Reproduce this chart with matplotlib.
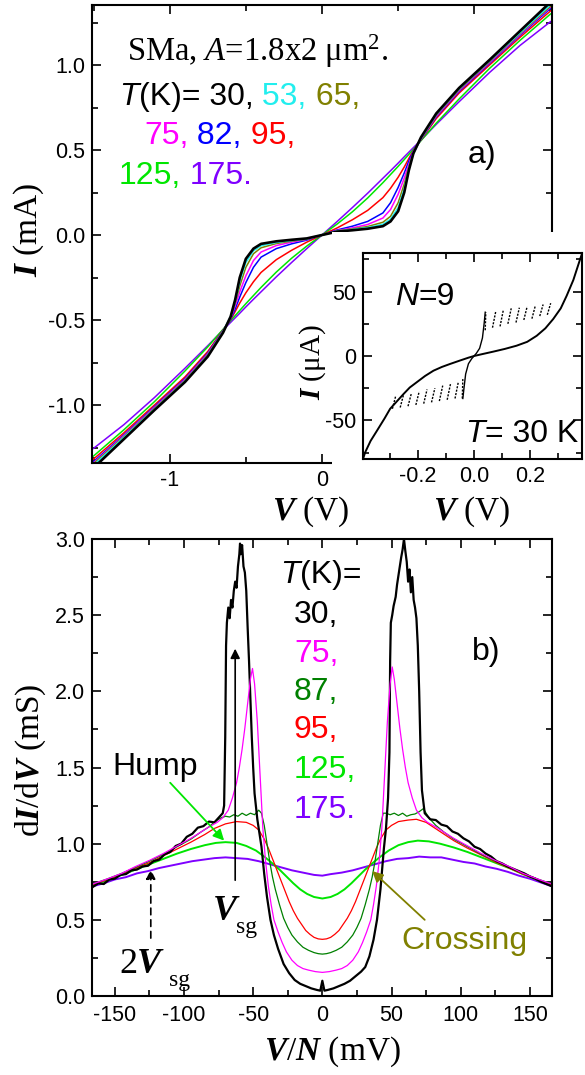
import numpy as np
import matplotlib.pyplot as plt
from matplotlib.patches import Rectangle
from matplotlib.ticker import MultipleLocator, FormatStrFormatter, FuncFormatter

plt.rcParams['font.family'] = 'Liberation Sans'
plt.rcParams['axes.unicode_minus'] = False
plt.rcParams['mathtext.fontset'] = 'custom'
plt.rcParams['mathtext.rm'] = 'Liberation Serif'
plt.rcParams['mathtext.it'] = 'Liberation Serif:italic'
plt.rcParams['mathtext.bf'] = 'Liberation Serif:italic:bold'
SERIF = 'Liberation Serif'

# ---- panel a: I-V curves (V in volts, I in mA) ----
V_a = [-1.5, -1.3, -1.1, -0.9, -0.75, -0.65, -0.6, -0.57, -0.54, -0.5, -0.45, -0.4, -0.3, -0.2, -0.1,
       0.0, 0.1, 0.2, 0.3, 0.4, 0.45, 0.5, 0.54, 0.57, 0.6, 0.65, 0.75, 0.9, 1.1, 1.3, 1.5]
I_30 = [-1.37, -1.2, -1.03, -0.865, -0.715, -0.575, -0.48, -0.38, -0.25, -0.14, -0.08, -0.052, -0.037, -0.028, -0.02,
        0.0, 0.02, 0.028, 0.037, 0.052, 0.08, 0.14, 0.25, 0.38, 0.48, 0.575, 0.715, 0.865, 1.03, 1.2, 1.37]
I_53 = [-1.355, -1.19, -1.025, -0.86, -0.71, -0.57, -0.48, -0.39, -0.27, -0.16, -0.092, -0.062, -0.043, -0.032, -0.022,
        0.0, 0.022, 0.032, 0.043, 0.062, 0.092, 0.16, 0.27, 0.39, 0.48, 0.57, 0.71, 0.86, 1.025, 1.19, 1.355]
I_65 = [-1.345, -1.185, -1.02, -0.855, -0.705, -0.567, -0.485, -0.40, -0.30, -0.19, -0.11, -0.075, -0.05, -0.036, -0.024,
        0.0, 0.024, 0.036, 0.05, 0.075, 0.11, 0.19, 0.30, 0.40, 0.485, 0.567, 0.705, 0.855, 1.02, 1.185, 1.345]
I_75 = [-1.34, -1.18, -1.015, -0.85, -0.70, -0.565, -0.49, -0.415, -0.335, -0.24, -0.15, -0.10, -0.062, -0.042, -0.026,
        0.0, 0.026, 0.042, 0.062, 0.10, 0.15, 0.24, 0.335, 0.415, 0.49, 0.565, 0.70, 0.85, 1.015, 1.18, 1.34]
I_82 = [-1.333, -1.175, -1.01, -0.845, -0.695, -0.562, -0.495, -0.435, -0.365, -0.28, -0.19, -0.13, -0.08, -0.052, -0.03,
        0.0, 0.03, 0.052, 0.08, 0.13, 0.19, 0.28, 0.365, 0.435, 0.495, 0.562, 0.695, 0.845, 1.01, 1.175, 1.333]
I_95 = [-1.318, -1.163, -1.0, -0.835, -0.685, -0.56, -0.497, -0.45, -0.40, -0.34, -0.275, -0.22, -0.145, -0.09, -0.042,
        0.0, 0.042, 0.09, 0.145, 0.22, 0.275, 0.34, 0.40, 0.45, 0.497, 0.56, 0.685, 0.835, 1.0, 1.163, 1.318]
I_125 = [-1.30, -1.145, -0.98, -0.80, -0.658, -0.555, -0.504, -0.474, -0.444, -0.404, -0.356, -0.308, -0.218, -0.137, -0.065,
         0.0, 0.065, 0.137, 0.218, 0.308, 0.356, 0.404, 0.444, 0.474, 0.504, 0.555, 0.658, 0.80, 0.98, 1.145, 1.30]
I_175 = [-1.255, -1.115, -0.956, -0.784, -0.651, -0.559, -0.514, -0.487, -0.46, -0.423, -0.378, -0.334, -0.246, -0.162, -0.08,
         0.0, 0.08, 0.162, 0.246, 0.334, 0.378, 0.423, 0.46, 0.487, 0.514, 0.559, 0.651, 0.784, 0.956, 1.115, 1.255]

# ---- inset: N=9 stack at 30 K (V in volts, I in uA) ----
in_v = [-0.40, -0.389, -0.37, -0.347, -0.32, -0.30, -0.275, -0.252, -0.23, -0.205, -0.175, -0.145, -0.115, -0.086,
        -0.05, -0.02, 0.0, 0.03, 0.069, 0.11, 0.152, 0.19, 0.224, 0.255, 0.283, 0.31, 0.331, 0.355, 0.379, 0.39]
in_i = [-82, -74.7, -66, -58, -48.5, -41, -35, -29.5, -24.5, -20.4, -15.5, -11.4, -8.5, -6.2,
        -3.5, -1.3, 0, 1.5, 3.4, 5.5, 8, 11, 15.7, 21.5, 28.7, 37, 46.7, 59, 75, 82]
cen_v = [-0.04, -0.036, -0.03, -0.02, -0.008, 0.0, 0.008, 0.02, 0.03, 0.036, 0.04]
cen_i = [-33, -25, -14, -6, -2, 0, 2, 6, 14, 25, 34]
br_v0 = [0.040, 0.066, 0.093, 0.121, 0.150, 0.178, 0.207, 0.235, 0.262,
         -0.292, -0.264, -0.236, -0.208, -0.180, -0.152, -0.124, -0.096, -0.068, -0.042]
br_v1 = [0.042, 0.078, 0.105, 0.133, 0.162, 0.190, 0.219, 0.247, 0.274,
         -0.280, -0.252, -0.224, -0.196, -0.168, -0.140, -0.112, -0.084, -0.056, -0.040]
br_i0 = [20, 22, 23, 25, 26, 28, 29, 31, 32,
         -41, -40, -39, -38, -37, -36, -35, -34, -33, -33]
br_i1 = [34, 35, 36, 37, 37.5, 38.5, 39, 40, 41,
         -31, -30, -29, -27.5, -26, -25, -23, -21.5, -20, -17]

# ---- panel b: dI/dV (mS) vs V/N (mV) ----
v_175 = [-166, -158, -150, -142, -134, -126, -118, -110, -102, -94, -86, -78, -70, -62, -54, -46, -38, -30, -22, -14, -6,
         0, 6, 14, 22, 30, 38, 46, 54, 62, 70, 78, 86, 94, 102, 110, 118, 126, 134, 142, 150, 158, 166]
g_175 = [0.72, 0.74, 0.765, 0.78, 0.805, 0.82, 0.84, 0.855, 0.87, 0.885, 0.895, 0.905, 0.91, 0.905, 0.9, 0.885, 0.865,
         0.845, 0.825, 0.81, 0.795, 0.79, 0.80, 0.81, 0.825, 0.845, 0.865, 0.885, 0.9, 0.905, 0.915, 0.91, 0.91, 0.895,
         0.88, 0.87, 0.85, 0.835, 0.815, 0.79, 0.77, 0.745, 0.72]
v_125 = [-166, -155, -145, -135, -125, -115, -105, -95, -85, -77, -70, -62, -55, -48, -42, -36, -31, -26, -21, -16, -11, -6,
         0, 6, 11, 16, 21, 26, 31, 36, 42, 48, 55, 62, 69, 77, 85, 95, 105, 115, 125, 135, 145, 155, 166]
g_125 = [0.73, 0.76, 0.795, 0.83, 0.865, 0.90, 0.935, 0.965, 0.99, 1.005, 1.01, 1.005, 0.985, 0.955, 0.915, 0.87, 0.83,
         0.785, 0.74, 0.70, 0.67, 0.65, 0.64, 0.65, 0.67, 0.70, 0.74, 0.785, 0.83, 0.87, 0.915, 0.955, 0.99, 1.01, 1.02,
         1.015, 1.0, 0.975, 0.945, 0.91, 0.875, 0.84, 0.80, 0.765, 0.73]
v_95 = [-166, -155, -145, -135, -125, -115, -105, -95, -85, -78, -70, -62, -55, -50, -46, -42, -39, -36, -33, -30, -27,
        -24, -21, -18, -15, -12, -9, -6, -3, 0, 3, 6, 9, 12, 15, 18, 21, 24, 27, 30, 33, 36, 39, 42, 46, 50, 55, 62, 68,
        75, 85, 95, 105, 115, 125, 135, 145, 155, 166]
g_95 = [0.73, 0.765, 0.80, 0.84, 0.875, 0.92, 0.965, 1.01, 1.06, 1.10, 1.13, 1.145, 1.14, 1.12, 1.09, 1.03, 0.97, 0.90,
        0.83, 0.76, 0.69, 0.62, 0.56, 0.51, 0.47, 0.43, 0.405, 0.385, 0.375, 0.372, 0.375, 0.385, 0.405, 0.43, 0.47, 0.51,
        0.56, 0.62, 0.69, 0.76, 0.83, 0.90, 0.97, 1.03, 1.09, 1.12, 1.145, 1.155, 1.16, 1.14, 1.08, 1.02, 0.97, 0.925,
        0.88, 0.84, 0.80, 0.765, 0.73]
v_87 = [-166, -155, -145, -135, -125, -115, -105, -95, -88, -82, -77, -73, -70, -67, -64, -61, -58, -55, -52, -49, -46,
        -44, -42, -40, -38, -36, -34, -31, -28, -25, -22, -18, -14, -10, -6, -3, 0, 3, 6, 10, 14, 18, 22, 25, 28, 31, 34,
        36, 38, 40, 42, 44, 46, 49, 52, 55, 58, 61, 64, 67, 70, 73, 77, 82, 88, 95, 105, 115, 125, 135, 145, 155, 166]
g_87 = [0.735, 0.77, 0.805, 0.845, 0.885, 0.93, 0.98, 1.03, 1.075, 1.11, 1.15, 1.17, 1.18, 1.175, 1.19, 1.18, 1.2, 1.185,
        1.2, 1.19, 1.22, 1.2, 1.12, 1.0, 0.88, 0.78, 0.70, 0.60, 0.51, 0.45, 0.40, 0.355, 0.32, 0.30, 0.285, 0.278, 0.275,
        0.278, 0.285, 0.30, 0.32, 0.355, 0.40, 0.45, 0.51, 0.60, 0.70, 0.78, 0.88, 1.0, 1.12, 1.2, 1.2, 1.19, 1.2, 1.185,
        1.2, 1.18, 1.19, 1.195, 1.21, 1.23, 1.17, 1.12, 1.075, 1.03, 0.98, 0.93, 0.885, 0.845, 0.805, 0.77, 0.735]
v_75 = [-166, -155, -145, -135, -125, -115, -105, -95, -88, -82, -76, -72, -68, -65, -62, -60, -58, -56, -54, -52, -50.5,
        -49, -47, -45, -43, -41, -39, -37, -35, -32, -29, -26, -22, -18, -14, -10, -5, 0, 5, 10, 14, 18, 22, 26, 29, 32,
        35, 37, 39, 41, 43, 45, 47, 49, 50.5, 52, 54, 56, 58, 60, 62, 65, 68, 72, 76, 82, 88, 95, 105, 115, 125, 135,
        145, 155, 166]
g_75 = [0.735, 0.77, 0.805, 0.85, 0.89, 0.935, 0.985, 1.035, 1.075, 1.11, 1.14, 1.17, 1.22, 1.30, 1.40, 1.50, 1.62, 1.76,
        1.92, 2.08, 2.15, 2.05, 1.80, 1.45, 1.10, 0.88, 0.72, 0.60, 0.50, 0.42, 0.35, 0.29, 0.235, 0.20, 0.18, 0.17, 0.16,
        0.155, 0.16, 0.17, 0.18, 0.20, 0.235, 0.29, 0.35, 0.42, 0.50, 0.60, 0.72, 0.88, 1.10, 1.45, 1.80, 2.05, 2.16,
        2.08, 1.92, 1.76, 1.62, 1.50, 1.40, 1.30, 1.22, 1.17, 1.14, 1.11, 1.075, 1.035, 0.985, 0.935, 0.89, 0.85, 0.805,
        0.77, 0.735]
v_30 = [-166, -162, -158, -154, -150, -146, -142, -138, -134, -130, -126, -122, -118, -114, -110, -106, -102, -98, -94,
        -90, -86, -82, -78, -74,
        -72, -71, -70.2, -69.6, -69, -68, -67, -66, -65, -64, -63, -62, -61, -60, -59.5, -59, -58, -57, -56, -55,
        -54, -53, -52, -51, -50, -49, -47, -45, -44, -42, -40, -37.5, -35, -32, -28, -24, -20, -16, -12, -8,
        -4, -1.5, 0, 1.5, 4, 8, 12, 16, 20, 24, 28, 31, 34, 37, 39.5, 42, 44.5, 46, 47.5, 48.5,
        49, 49.5, 50.5, 51.5, 53, 54, 55, 56, 57, 58, 59, 60, 61, 62, 63, 64, 65, 66, 67, 68, 69, 70, 71, 72,
        74, 78, 82, 86, 90, 94, 98, 102, 106, 110, 114, 118, 122, 126, 130, 134, 138, 142, 146, 150, 154, 158, 162, 166]
g_30 = [0.715, 0.74, 0.735, 0.765, 0.77, 0.795, 0.80, 0.825, 0.83, 0.85, 0.855, 0.885, 0.895, 0.93, 0.945, 0.985, 1.0,
        1.045, 1.065, 1.105, 1.115, 1.145, 1.14, 1.18,
        1.2, 1.25, 1.7, 2.3, 2.45, 2.55, 2.48, 2.6, 2.55, 2.66, 2.72, 2.68, 2.82, 2.9, 2.97, 2.9, 2.96, 2.82, 2.78, 2.66,
        2.42, 2.2, 1.95, 1.7, 1.5, 1.33, 1.16, 1.04, 0.98, 0.8, 0.65, 0.5, 0.4, 0.31, 0.21, 0.15, 0.105, 0.08, 0.065, 0.05,
        0.04, 0.035, 0.1, 0.035, 0.04, 0.05, 0.065, 0.08, 0.1, 0.13, 0.16, 0.19, 0.26, 0.37, 0.5, 0.7, 0.97, 1.1, 1.3, 1.6,
        2.2, 2.45, 2.5, 2.56, 2.62, 2.7, 2.76, 2.82, 2.88, 2.93, 3.0, 2.92, 2.85, 2.72, 2.8, 2.65, 2.75, 2.6, 2.55, 2.48,
        2.3, 2.0, 1.6, 1.35,
        1.2, 1.16, 1.155, 1.125, 1.115, 1.08, 1.065, 1.035, 1.015, 0.98, 0.965, 0.935, 0.915, 0.885, 0.87, 0.85, 0.835,
        0.82, 0.805, 0.785, 0.77, 0.75, 0.735, 0.72]

C_CYAN, C_OLIVE, C_MAG, C_BLUE = '#22eeee', '#808000', '#ff00ff', '#0000ff'
C_RED, C_GREEN, C_PURP, C_DKGR = '#ff0000', '#00e600', '#7f00ff', '#008000'


def style_axes(ax, xmaj, xmin, ymaj, ymin, xfmt, yfmt):
    ax.xaxis.set_major_locator(MultipleLocator(xmaj))
    ax.xaxis.set_minor_locator(MultipleLocator(xmin))
    ax.yaxis.set_major_locator(MultipleLocator(ymaj))
    ax.yaxis.set_minor_locator(MultipleLocator(ymin))
    ax.xaxis.set_major_formatter(FormatStrFormatter(xfmt))
    ax.yaxis.set_major_formatter(FormatStrFormatter(yfmt))
    ax.tick_params(which='both', direction='in', top=True, right=True, width=1.2, labelsize=15.5, pad=5)
    ax.tick_params(which='major', length=6.5)
    ax.tick_params(which='minor', length=4)
    for s in ax.spines.values():
        s.set_linewidth(1.5)


def chain(ax, x, y, parts, size, transform, **kw):
    # place text pieces one after another on the same baseline
    t = None
    for s, color, style in parts:
        if t is None:
            t = ax.text(x, y, s, color=color, style=style, fontsize=size, transform=transform,
                        ha='left', va='baseline', **kw)
        else:
            t = ax.annotate(s, xy=(1, 0), xycoords=t, ha='left', va='bottom',
                            color=color, style=style, fontsize=size, **kw)
    return t


fig = plt.figure(figsize=(5.85, 10.75), dpi=100)
W, H = 585.0, 1075.0
ax_a = fig.add_axes([92 / W, 1 - 463 / H, 460 / W, 458 / H])
ax_b = fig.add_axes([92 / W, 1 - 996 / H, 460 / W, 457 / H])
ax_in = fig.add_axes([363 / W, 1 - 459 / H, 219 / W, 206 / H])
ax_in.set_zorder(3)
# white cut-out behind the inset (hides the main frame there)
fig.add_artist(Rectangle((332 / W, 1 - 492 / H), 253 / W, 260 / H, transform=fig.transFigure,
                         facecolor='white', edgecolor='none', zorder=2))

# panel a
for I, c, lw in [(I_175, C_PURP, 1.1), (I_125, C_GREEN, 1.1), (I_95, C_RED, 1.1), (I_82, C_BLUE, 1.1),
                 (I_75, C_MAG, 1.1), (I_65, C_OLIVE, 1.1), (I_53, C_CYAN, 1.3), (I_30, 'black', 1.9)]:
    ax_a.plot(V_a, I, color=c, lw=lw)
ax_a.set_xlim(-1.51, 1.51)
ax_a.set_ylim(-1.341, 1.353)
style_axes(ax_a, 1, 0.5, 0.5, 0.25, '%d', '%.1f')
# the "1" label sits under the inset in the original
ax_a.xaxis.set_major_formatter(FuncFormatter(lambda x, p: '%d' % x if x < 0.5 else ''))
ax_a.text(-0.137, 0.509, r'$\mathbf{I}$ (mA)', transform=ax_a.transAxes, rotation=90,
          ha='center', va='center', fontsize=24, family=SERIF)
ax_a.text(0.476, -0.107, r'$\mathbf{V}$ (V)', transform=ax_a.transAxes,
          ha='center', va='center', fontsize=24, family=SERIF)
ax_a.text(0.076, 0.878, r'SMa, $A$=1.8x2 μm$^2$.', transform=ax_a.transAxes,
          ha='left', va='baseline', fontsize=23.5, family=SERIF)
chain(ax_a, 0.0587, 0.7817, [('T', 'black', 'italic'), ('(K)= 30,', 'black', 'normal'),
                             (' 53,', C_CYAN, 'normal'), (' 65,', C_OLIVE, 'normal')], 23, ax_a.transAxes)
chain(ax_a, 0.113, 0.6965, [('75,', C_MAG, 'normal'), (' 82,', C_BLUE, 'normal'),
                            (' 95,', C_RED, 'normal')], 23, ax_a.transAxes)
chain(ax_a, 0.0587, 0.609, [('125,', C_GREEN, 'normal'), (' 175.', C_PURP, 'normal')], 23, ax_a.transAxes)
ax_a.text(0.817, 0.655, 'a)', transform=ax_a.transAxes, ha='left', va='baseline', fontsize=23)

# inset
ax_in.plot(in_v, in_i, color='black', lw=1.4)
ax_in.plot(cen_v, cen_i, color='black', lw=1.0)
for a, b, c, d in zip(br_v0, br_v1, br_i0, br_i1):
    ax_in.plot([a, b], [c, d], color='black', lw=1.0, ls=(0, (1.5, 1)))
ax_in.set_xlim(-0.397, 0.386)
ax_in.set_ylim(-80, 80)
style_axes(ax_in, 0.2, 0.1, 50, 25, '%.1f', '%d')
ax_in.text(-0.228, 0.47, r'$\mathbf{I}$ (μA)', transform=ax_in.transAxes, rotation=90,
           ha='center', va='center', fontsize=21, family=SERIF)
ax_in.text(0.498, -0.257, r'$\mathbf{V}$ (V)', transform=ax_in.transAxes,
           ha='center', va='center', fontsize=24, family=SERIF)
chain(ax_in, 0.146, 0.7476, [('N', 'black', 'italic'), ('=9', 'black', 'normal')], 23, ax_in.transAxes)
chain(ax_in, 0.466, 0.0825, [('T', 'black', 'italic'), ('= 30 K', 'black', 'normal')], 23, ax_in.transAxes)

# panel b
for v, g, c, lw in [(v_175, g_175, C_PURP, 1.4), (v_125, g_125, C_GREEN, 1.4), (v_95, g_95, C_RED, 0.9),
                    (v_87, g_87, C_DKGR, 0.9), (v_30, g_30, 'black', 1.6), (v_75, g_75, C_MAG, 0.9)]:
    ax_b.plot(v, g, color=c, lw=lw)
ax_b.set_xlim(-166.5, 166)
ax_b.set_ylim(0, 3.0)
style_axes(ax_b, 50, 25, 0.5, 0.25, '%d', '%.1f')
ax_b.tick_params(axis='x', pad=6.5)
ax_b.text(-0.133, 0.516, r'd$\mathbf{I}$/d$\mathbf{V}$ (mS)', transform=ax_b.transAxes, rotation=90,
          ha='center', va='center', fontsize=24, family=SERIF)
ax_b.text(0.522, -0.1225, r'$\mathbf{V}$/$\mathbf{N}$ (mV)', transform=ax_b.transAxes,
          ha='center', va='center', fontsize=24, family=SERIF)

chain(ax_b, 0.4087, 0.9037, [('T', 'black', 'italic'), ('(K)=', 'black', 'normal')], 23, ax_b.transAxes)
for s, c, y in [('30,', 'black', 0.816), ('75,', C_MAG, 0.7309), ('87,', C_DKGR, 0.6477),
                ('95,', C_RED, 0.5646), ('125,', C_GREEN, 0.477), ('175.', C_PURP, 0.3895)]:
    ax_b.text(0.439, y, s, color=c, transform=ax_b.transAxes, ha='left', va='baseline', fontsize=23)
ax_b.text(0.826, 0.735, 'b)', transform=ax_b.transAxes, ha='left', va='baseline', fontsize=23)

ax_b.text(-152, 1.451, 'Hump', ha='left', va='baseline', fontsize=23)
ax_b.annotate('', xy=(-71, 1.02), xytext=(-110, 1.40),
              arrowprops=dict(arrowstyle='-|>', color=C_GREEN, lw=1.3, mutation_scale=16, shrinkA=0, shrinkB=0))
ax_b.text(57, 0.309, 'Crossing', color=C_OLIVE, ha='left', va='baseline', fontsize=23)
ax_b.annotate('', xy=(36, 0.82), xytext=(74, 0.50),
              arrowprops=dict(arrowstyle='-|>', color=C_OLIVE, lw=1.3, mutation_scale=16, shrinkA=0, shrinkB=0))
ax_b.annotate('', xy=(-63, 2.28), xytext=(-63, 0.76),
              arrowprops=dict(arrowstyle='-|>', color='black', lw=1.2, mutation_scale=14, shrinkA=0, shrinkB=0))
ax_b.annotate('', xy=(-124, 0.83), xytext=(-124, 0.38),
              arrowprops=dict(arrowstyle='-|>', color='black', lw=1.2, ls=(0, (4, 3)),
                              mutation_scale=14, shrinkA=0, shrinkB=0))
ax_b.text(-79.4, 0.499, 'V', family=SERIF, weight='bold', style='italic', fontsize=26, ha='left', va='baseline')
ax_b.text(-62.5, 0.414, 'sg', family=SERIF, fontsize=17, ha='left', va='baseline')
two = ax_b.text(-147, 0.151, '2', family=SERIF, fontsize=26, ha='left', va='baseline')
ax_b.annotate('V', xy=(1, 0), xycoords=two, ha='left', va='bottom', family=SERIF,
              weight='bold', style='italic', fontsize=26)
ax_b.text(-111, 0.066, 'sg', family=SERIF, fontsize=17, ha='left', va='baseline')

fig.savefig('out.png', dpi=100)
